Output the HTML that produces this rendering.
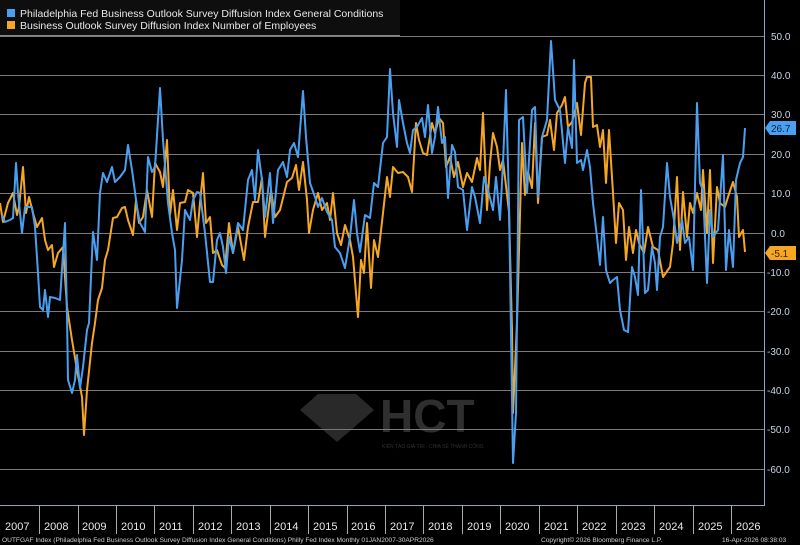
<!DOCTYPE html>
<html><head><meta charset="utf-8"><style>
html,body{margin:0;padding:0;background:#000;}
svg{display:block;font-family:"Liberation Sans",sans-serif;}
</style></head><body>
<svg width="800" height="545" viewBox="0 0 800 545" xmlns="http://www.w3.org/2000/svg">
<rect width="800" height="545" fill="#000"/>
<g stroke="#7a7a7a" stroke-width="1">
<line x1="0" x2="764" y1="36.5" y2="36.5"/><line x1="0" x2="764" y1="75.5" y2="75.5"/><line x1="0" x2="764" y1="114.5" y2="114.5"/><line x1="0" x2="764" y1="154.5" y2="154.5"/><line x1="0" x2="764" y1="193.5" y2="193.5"/><line x1="0" x2="764" y1="233.5" y2="233.5"/><line x1="0" x2="764" y1="272.5" y2="272.5"/><line x1="0" x2="764" y1="311.5" y2="311.5"/><line x1="0" x2="764" y1="351.5" y2="351.5"/><line x1="0" x2="764" y1="390.5" y2="390.5"/><line x1="0" x2="764" y1="429.5" y2="429.5"/><line x1="0" x2="764" y1="469.5" y2="469.5"/>
</g>
<!-- watermark -->
<g opacity="0.35" fill="#777">
<polygon points="300,410 318,394 356,394 374,410 337,442"/>
<text x="380" y="432" font-size="46" font-weight="bold" fill="#888">HCT</text>
<text x="382" y="448" font-size="5" fill="#888">KIẾN TẠO GIÁ TRỊ - CHIA SẺ THÀNH CÔNG</text>
</g>
<polyline fill="none" stroke="#f5a623" stroke-width="2" stroke-linejoin="round" points="0,203 3,222 8,203 13,193 17,215 19,207 23,167 26,213 29,197 33,213 37,227 42,218 45,240 48,250 52,245 54,267 58,253 63,247 67,307 72,340 77,370 82,397 84,435 87,390 92,343 95,323 98,300 102,288 105,260 108,250 113,218 117,217 122,208 125,207 128,220 133,235 136,200 139,223 143,217 147,190 152,217 155,163 160,172 163,187 167,140 170,215 173,190 177,230 180,203 185,202 188,190 193,193 197,237 200,203 203,173 206,223 210,217 213,253 217,250 222,265 225,268 229,223 233,253 238,227 244,260 248,227 253,202 258,202 262,178 265,237 271,190 275,217 280,210 287,182 292,178 296,165 299,190 303,162 307,200 309,233 313,210 318,193 322,210 327,203 330,220 333,193 337,233 341,245 345,225 350,240 353,257 358,317 361,260 364,273 367,223 371,288 374,240 378,257 383,213 387,177 390,197 393,167 398,173 403,172 408,177 412,192 416,123 419,140 423,153 427,155 432,123 435,133 439,118 443,123 446,167 450,157 454,177 458,162 463,187 467,173 472,182 477,158 480,170 483,113 487,210 490,163 493,133 497,147 500,170 503,160 509,212 512,330 513,413 517,323 522,143 525,195 528,172 532,188 535,123 538,203 542,137 547,135 550,120 554,150 557,113 562,105 565,97 568,127 572,122 577,103 581,135 585,83 587,77 591,77 593,127 597,125 600,147 603,130 606,183 609,130 613,193 616,243 619,203 623,210 626,260 629,227 633,253 636,230 639,243 644,253 648,227 653,247 658,250 663,277 670,267 673,243 677,177 680,250 683,192 687,237 690,203 693,213 697,193 701,210 703,170 707,233 710,170 713,263 717,187 720,203 725,207 728,197 733,182 737,197 739,237 743,230 745,252"/>
<polyline fill="none" stroke="#4a9ff0" stroke-width="2" stroke-linejoin="round" points="2,215 5,222 10,220 13,218 16,163 18,193 22,233 25,207 32,207 35,227 38,273 40,307 43,310 45,290 48,317 50,297 55,298 60,300 65,223 67,317 68,380 72,393 75,380 77,355 80,388 83,367 87,330 89,323 93,232 97,260 100,193 103,173 107,182 112,167 115,182 120,177 125,170 128,145 132,170 137,207 140,223 145,232 148,157 152,172 155,167 160,88 163,140 168,203 172,233 175,250 177,308 182,260 185,210 190,220 193,200 197,192 200,193 205,233 210,282 213,282 217,240 220,233 223,247 226,273 229,237 233,253 238,223 243,230 248,180 252,170 255,200 258,150 262,180 265,217 270,173 273,223 278,170 283,162 287,177 290,150 294,143 298,157 303,91 306,137 310,183 315,197 318,207 322,198 327,212 332,220 335,247 340,253 345,268 350,237 354,200 357,233 360,252 365,215 370,218 374,183 378,187 383,143 387,137 390,69 393,113 397,147 399,100 403,123 407,143 410,153 413,130 417,127 422,118 425,137 428,105 432,153 435,137 438,107 442,143 445,137 448,198 452,145 455,152 458,187 463,190 467,230 472,187 475,197 480,223 484,177 488,190 493,210 496,177 500,220 503,163 506,90 509,203 513,463 516,413 519,120 523,117 527,193 532,110 535,107 538,197 542,137 547,120 551,41 555,100 560,110 565,163 568,127 572,148 574,60 577,163 581,160 583,170 587,150 590,167 593,203 597,237 600,265 603,217 606,270 610,283 613,280 617,277 620,310 624,330 628,332 632,267 635,277 638,295 641,190 645,293 648,290 652,247 655,263 657,290 660,237 663,227 667,163 670,197 674,220 677,243 682,220 685,243 689,237 693,270 697,103 700,183 703,190 707,283 710,210 713,237 718,230 723,155 726,270 729,230 733,267 736,180 740,163 743,157 745,128"/>
<!-- right axis -->
<line x1="764.5" x2="764.5" y1="0" y2="505" stroke="#8aa8c8" stroke-width="1"/>
<g fill="#c8d4e4" font-size="10">
<text x="771" y="40">50.0</text><text x="771" y="79">40.0</text><text x="771" y="118">30.0</text><text x="771" y="197">10.0</text><text x="771" y="237">0.0</text><text x="767" y="315">-20.0</text><text x="767" y="355">-30.0</text><text x="767" y="394">-40.0</text><text x="767" y="433">-50.0</text><text x="767" y="473">-60.0</text><text x="771" y="158">20.0</text><text x="767" y="276">-10.0</text>
</g>
<polygon points="765,128 770,121 796,121 796,135 770,135" fill="#4a9ff0"/>
<text x="771" y="132" font-size="10" fill="#06204a">26.7</text>
<polygon points="765,253 770,246 796,246 796,260 770,260" fill="#f5a623"/>
<text x="771" y="257" font-size="10" fill="#3a2000">-5.1</text>
<!-- x axis -->
<line x1="0" x2="765" y1="505.5" y2="505.5" stroke="#8aa8c8"/>
<g stroke="#aaa" stroke-width="1">
<line x1="39.5" x2="39.5" y1="506" y2="534"/><line x1="78.5" x2="78.5" y1="506" y2="534"/><line x1="116.5" x2="116.5" y1="506" y2="534"/><line x1="154.5" x2="154.5" y1="506" y2="534"/><line x1="193.5" x2="193.5" y1="506" y2="534"/><line x1="231.5" x2="231.5" y1="506" y2="534"/><line x1="270.5" x2="270.5" y1="506" y2="534"/><line x1="308.5" x2="308.5" y1="506" y2="534"/><line x1="347.5" x2="347.5" y1="506" y2="534"/><line x1="385.5" x2="385.5" y1="506" y2="534"/><line x1="423.5" x2="423.5" y1="506" y2="534"/><line x1="462.5" x2="462.5" y1="506" y2="534"/><line x1="500.5" x2="500.5" y1="506" y2="534"/><line x1="539.5" x2="539.5" y1="506" y2="534"/><line x1="577.5" x2="577.5" y1="506" y2="534"/><line x1="616.5" x2="616.5" y1="506" y2="534"/><line x1="654.5" x2="654.5" y1="506" y2="534"/><line x1="693.5" x2="693.5" y1="506" y2="534"/><line x1="731.5" x2="731.5" y1="506" y2="534"/>
</g>
<g fill="#e8e8e8" font-size="11">
<text x="5" y="530">2007</text><text x="44" y="530">2008</text><text x="82" y="530">2009</text><text x="121" y="530">2010</text><text x="159" y="530">2011</text><text x="198" y="530">2012</text><text x="236" y="530">2013</text><text x="274" y="530">2014</text><text x="313" y="530">2015</text><text x="351" y="530">2016</text><text x="390" y="530">2017</text><text x="428" y="530">2018</text><text x="467" y="530">2019</text><text x="505" y="530">2020</text><text x="544" y="530">2021</text><text x="582" y="530">2022</text><text x="621" y="530">2023</text><text x="659" y="530">2024</text><text x="698" y="530">2025</text><text x="736" y="530">2026</text>
</g>
<g fill="#cfcfcf" font-size="6.6">
<text x="2" y="542">OUTFGAF Index (Philadelphia Fed Business Outlook Survey Diffusion Index General Conditions) Philly Fed Index Monthly 01JAN2007-30APR2026</text>
<text x="541" y="542">Copyright© 2026 Bloomberg Finance L.P.</text>
<text x="722" y="542">16-Apr-2026 08:38:03</text>
</g>
<!-- legend -->
<rect x="0" y="0" width="400" height="35" fill="#0e0e0e"/>
<line x1="0" x2="400" y1="35.5" y2="35.5" stroke="#888"/>
<rect x="7" y="9" width="8" height="8" fill="#4a9ff0"/>
<rect x="7" y="21" width="8" height="8" fill="#f5a623"/>
<g fill="#e8e8e8" font-size="10.5">
<text x="20" y="17">Philadelphia Fed Business Outlook Survey Diffusion Index General Conditions</text>
<text x="20" y="29">Business Outlook Survey Diffusion Index Number of Employees</text>
</g>
</svg>
</body></html>
